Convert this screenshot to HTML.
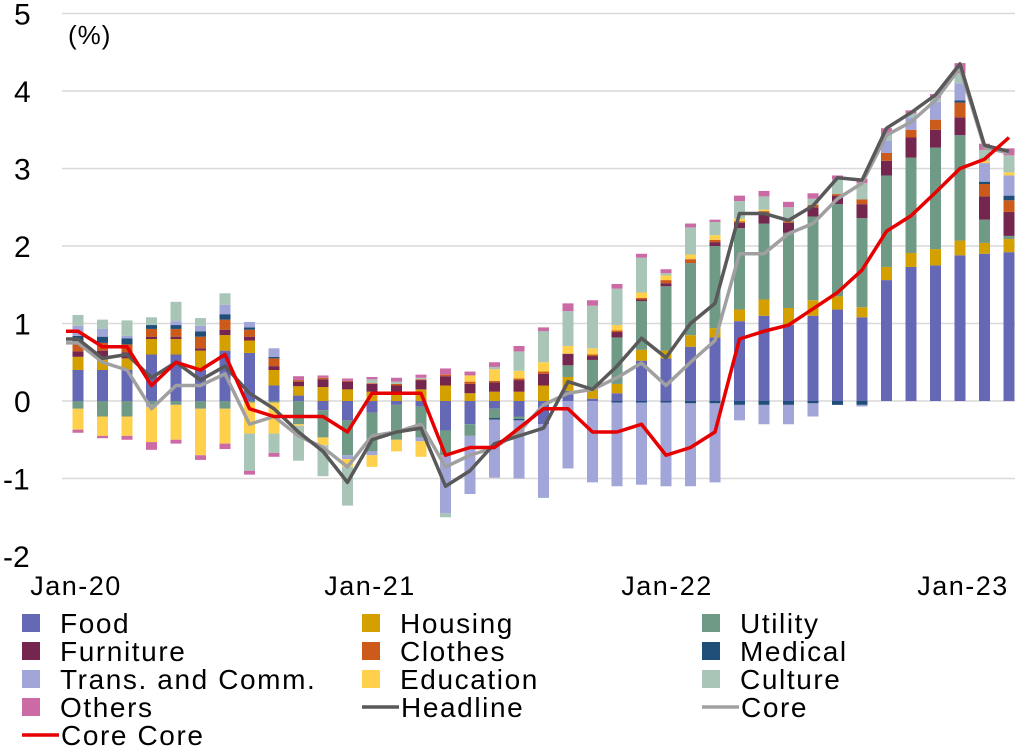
<!DOCTYPE html>
<html><head><meta charset="utf-8"><style>
body{margin:0;background:#fff;width:1022px;height:750px;overflow:hidden}
svg text{font-family:"Liberation Sans","Noto Sans CJK JP",sans-serif}
</style></head><body>
<svg id="s" width="1022" height="750" xmlns="http://www.w3.org/2000/svg"></svg>
<script>
const Z=401,U=77.5,X0=78,DX=24.5,BW=11;
const cols=["#6468b5","#d4a000","#6f9a86","#74264f","#cc5a1a","#1f4e79","#a1a5d8","#ffd04c","#a9c5b8","#cc6aa6"];
const D=[
[.4,.17,-.1,.07,.13,.07,.13,-.27,.14,-.04],
[.4,.15,-.2,.1,.1,.08,.1,-.25,.12,-.03],
[.4,.15,-.2,.08,.1,.08,.03,-.25,.2,-.05],
[.6,.2,-.05,.03,.1,.05,-.03,-.45,.1,-.1],
[.6,.2,-.05,.03,.1,.05,.05,-.45,.25,-.05],
[.4,.25,-.1,.03,.15,.07,.07,-.6,.1,-.06],
[.65,.2,-.1,.07,.13,.07,.12,-.45,.15,-.07],
[.62,.16,-.02,.05,.09,.03,.07,-.4,-.48,-.05],
[.2,.2,-.02,.05,.1,.02,.11,-.4,-.25,-.05],
[.07,.12,-.3,.06,.02,0,0,-.02,-.45,.05],
[-.12,.18,-.35,.1,.02,0,0,-.1,-.4,.03],
[-.25,.15,-.45,.1,.01,0,-.05,-.1,-.5,.03],
[-.15,.12,-.5,.1,.01,0,-.05,-.15,.05,.03],
[-.05,.1,-.45,.1,.02,0,0,-.15,.03,.05],
[-.07,.15,-.4,.12,.01,0,-.05,-.2,.02,.04],
[-.38,.2,-.32,.12,.02,0,-.75,0,-.05,.08],
[-.3,.1,-.15,.12,.03,0,-.75,.08,0,.05],
[-.1,.12,-.12,.12,.02,-.02,-.75,.15,.03,.06],
[-.2,.12,-.03,.15,.02,-.02,-.75,.1,.25,.07],
[-.3,.2,0,.15,.03,0,-.95,.12,.4,.05],
[.13,.18,.15,.15,0,0,-.87,.1,.45,.1],
[.03,.15,.35,.05,.02,0,-1.05,.08,.55,.07],
[.1,.12,.6,.07,.02,-.02,-1.08,.07,.47,.06],
[.52,.14,.63,.02,.02,-.02,-1.06,.07,.45,.05],
[.55,.1,.83,.04,.04,-.02,-1.08,.06,.03,.05],
[.7,.15,.93,0,.05,-.03,-1.07,.06,.35,.05],
[.82,.12,1.06,.05,.03,-.03,-1.02,.06,.17,.03],
[1.03,.15,1.05,.07,.02,-.05,-.2,.03,.23,.07],
[1.1,.21,.98,.13,.03,-.05,-.25,.02,.17,.07],
[.98,.22,.97,.13,.02,-.05,-.25,0,.18,.07],
[1.1,.2,1.08,.12,.03,-.03,-.17,0,.08,.07],
[1.18,.17,1.19,.11,.02,-.05,0,0,.19,.05],
[1.08,.13,1.15,.18,.06,-.05,-.02,0,.21,.06],
[1.56,.17,1.18,.19,.1,0,.16,0,.08,.08],
[1.73,.18,1.23,.26,.1,0,.16,0,.05,.04],
[1.75,.21,1.31,.23,.13,0,.23,0,.05,.05],
[1.88,.19,1.36,.23,.19,.03,.22,0,.13,.13],
[1.9,.14,.3,.3,.16,.03,.24,.03,.14,.08],
[1.92,.17,.04,.31,.15,.06,.26,.04,.22,.09]];
const H=[.8,.55,.6,.3,.5,.27,.45,.1,-.1,-.4,-.65,-1.05,-.5,-.4,-.35,-1.1,-.9,-.55,-.45,-.35,.25,.15,.45,.81,.56,1.0,1.26,2.42,2.42,2.33,2.52,2.88,2.85,3.52,3.72,3.95,4.35,3.3,3.22];
const C=[.75,.5,.4,-.1,.2,.2,.35,-.3,-.2,-.45,-.6,-.85,-.45,-.4,-.3,-.85,-.7,-.6,-.4,-.05,.1,.15,.3,.49,.2,.5,.78,1.9,1.9,2.16,2.29,2.61,2.81,3.43,3.6,3.88,4.3,3.27,3.2];
const CC=[.9,.7,.7,.2,.5,.4,.6,-.1,-.2,-.2,-.2,-.4,.1,.1,.1,-.7,-.6,-.6,-.35,-.1,-.1,-.4,-.4,-.3,-.7,-.6,-.4,.8,.9,.98,1.19,1.4,1.69,2.19,2.39,2.69,3.0,3.12,3.4];
let s='';
const y=v=>Z-v*U;
for(let v=-2;v<=5;v++){ if(v!==-2) s+=`<line x1="62" x2="1015" y1="${y(v)}" y2="${y(v)}" stroke="#d9d9d9" stroke-width="1.5"/>`;
 s+=`<text x="${v<0?3:14}" y="${y(v)+11}" font-size="30" fill="#000">${v<0?'-'+(-v):v}</text>`;}
s+=`<text x="68" y="44" font-size="26" letter-spacing="1">(%)</text>`;
D.forEach((r,i)=>{const cx=X0+i*DX;let p=0,n=0;
 r.forEach((v,k)=>{if(v>0){s+=`<rect x="${cx-BW/2}" y="${y(p+v)}" width="${BW}" height="${v*U}" fill="${cols[k]}"/>`;p+=v;}
 else if(v<0){s+=`<rect x="${cx-BW/2}" y="${y(n)}" width="${BW}" height="${-v*U}" fill="${cols[k]}"/>`;n+=v;}});});
const line=(a,c)=>{let pts=`66,${y(a[0])} `+a.map((v,i)=>`${X0+i*DX},${y(v)}`).join(' ');
 s+=`<polyline points="${pts}" fill="none" stroke="${c}" stroke-width="3.5" stroke-linejoin="round"/>`;};
line(C,"#a0a0a0");line(H,"#595959");line(CC,"#e60000");
[["Jan-20",76],["Jan-21",370],["Jan-22",667],["Jan-23",963]].forEach(([t,x])=>s+=`<text x="${x}" y="595" font-size="27" letter-spacing="1.5" text-anchor="middle">${t}</text>`);
const L=[["Food",0],["Housing",1],["Utility",2],["Furniture",3],["Clothes",4],["Medical",5],["Trans. and Comm.",6],["Education",7],["Culture",8],["Others",9],["Headline","L#595959"],["Core","L#a0a0a0"],["Core Core","L#e60000"]];
L.forEach(([t,k],j)=>{const cx=[22,362,702][j%3],ry=623+Math.floor(j/3)*28;
 if(typeof k==="number") s+=`<rect x="${cx}" y="${ry-9}" width="18" height="18" fill="${cols[k]}"/>`;
 else s+=`<line x1="${cx}" x2="${cx+37}" y1="${ry}" y2="${ry}" stroke="${k.slice(1)}" stroke-width="3.5"/>`;
 s+=`<text x="${typeof k==="number"?cx+38:cx+39}" y="${ry+10}" font-size="28" letter-spacing="1.6">${t}</text>`;});
document.getElementById('s').innerHTML=s;
</script>
</body></html>
